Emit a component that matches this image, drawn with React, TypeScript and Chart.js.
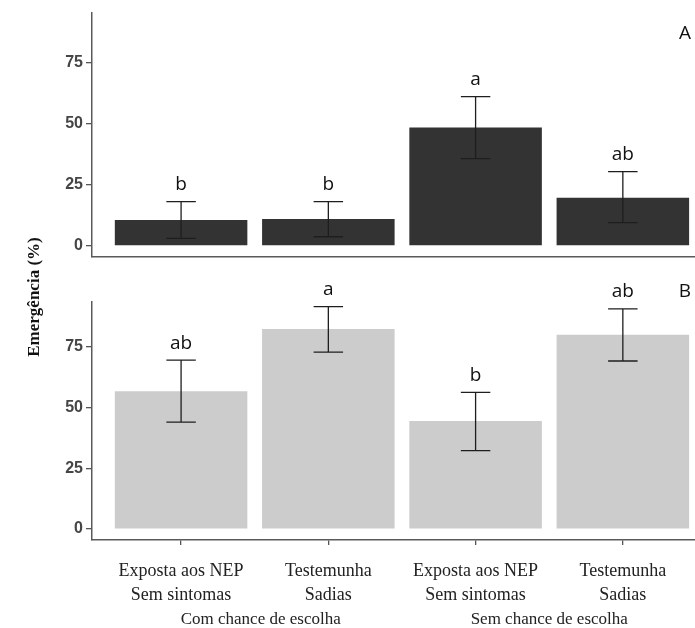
import React, { useEffect, useRef } from "react";
import { Chart, registerables } from "chart.js";

Chart.register(...registerables);

// ---- data ----
const categories: string[][] = [
  ["Exposta aos NEP", "Sem sintomas"],
  ["Testemunha", "Sadias"],
  ["Exposta aos NEP", "Sem sintomas"],
  ["Testemunha", "Sadias"],
];
const groups: string[] = ["Com chance de escolha", "Sem chance de escolha"];
const yTicks: number[] = [0, 25, 50, 75];

const meanA: number[] = [10.7, 11.1, 48.6, 19.8];
const lowA: number[] = [3.1, 3.8, 35.8, 9.6];
const highA: number[] = [18.2, 18.2, 61.2, 30.5];
const lettersA: string[] = ["b", "b", "a", "ab"];

const meanB: number[] = [56.8, 82.4, 44.5, 80.0];
const lowB: number[] = [44.0, 72.9, 32.3, 69.2];
const highB: number[] = [69.6, 91.6, 56.3, 90.7];
const lettersB: string[] = ["ab", "a", "b", "ab"];

const yTitle = "Emergência (%)";

// ---- layout ----
const W = 695;
const H = 628;
const positions = categories.map((_, i) => i + 1);

const errorBarPlugin = {
  id: "errorBars",
  afterDatasetsDraw(chart: any, _args: any, opts: any) {
    const { ctx } = chart;
    const xs = chart.scales.x;
    const ys = chart.scales.y;
    ctx.save();
    ctx.strokeStyle = "#1e1e1e";
    ctx.lineWidth = 1.3;
    opts.low.forEach((lo: number, i: number) => {
      const hi = opts.high[i];
      const px = xs.getPixelForValue(positions[i]);
      const hw = xs.getPixelForValue(positions[i] + 0.1) - px;
      const yh = ys.getPixelForValue(hi);
      const yl = ys.getPixelForValue(lo);
      ctx.beginPath();
      ctx.moveTo(px, yh);
      ctx.lineTo(px, yl);
      ctx.moveTo(px - hw, yh);
      ctx.lineTo(px + hw, yh);
      ctx.moveTo(px - hw, yl);
      ctx.lineTo(px + hw, yl);
      ctx.stroke();
      ctx.fillStyle = "#111";
      ctx.font = '19px "Open Sans"';
      ctx.textAlign = "center";
      ctx.textBaseline = "alphabetic";
      ctx.fillText(opts.letters[i], px, yh - 11.5);
    });
    ctx.fillStyle = "#111";
    ctx.font = '19px "Open Sans"';
    ctx.textAlign = "center";
    ctx.textBaseline = "alphabetic";
    ctx.fillText(opts.panel, chart.chartArea.right - 10, opts.panelY);
    ctx.restore();
  },
};

const decorPlugin = {
  id: "decor",
  afterDraw(chart: any, _args: any, opts: any) {
    if (!opts.enabled) return;
    const { ctx } = chart;
    const xs = chart.scales.x;
    ctx.save();
    ctx.fillStyle = "#111";
    ctx.font = 'bold 17px "Liberation Serif"';
    ctx.textAlign = "center";
    ctx.textBaseline = "middle";
    ctx.translate(35, 297);
    ctx.rotate(-Math.PI / 2);
    ctx.fillText(yTitle, 0, 0);
    ctx.restore();

    ctx.save();
    ctx.fillStyle = "#222";
    ctx.font = '17px "Liberation Serif"';
    ctx.textAlign = "center";
    ctx.textBaseline = "middle";
    groups.forEach((g, gi) => {
      const a = xs.getPixelForValue(positions[gi * 2]);
      const b = xs.getPixelForValue(positions[gi * 2 + 1]);
      ctx.fillText(g, (a + b) / 2 + (gi === 0 ? 6 : 0), chart.height - 8);
    });
    ctx.restore();
  },
};

function buildConfig(panel: "A" | "B"): any {
  const isA = panel === "A";
  const mean = isA ? meanA : meanB;
  return {
    type: "bar",
    data: {
      datasets: [
        {
          data: mean.map((v, i) => ({ x: positions[i], y: v })),
          backgroundColor: isA ? "#333333" : "#cccccc",
          borderWidth: 0,
          barPercentage: 0.9,
          categoryPercentage: 1.0,
        },
      ],
    },
    plugins: [errorBarPlugin, decorPlugin],
    options: {
      responsive: false,
      animation: false,
      devicePixelRatio: 1,
      events: [],
      layout: {
        padding: { top: isA ? 13 : 302, left: 0, right: 0, bottom: 0 },
      },
      plugins: {
        legend: { display: false },
        tooltip: { enabled: false },
        errorBars: {
          low: isA ? lowA : lowB,
          high: isA ? highA : highB,
          letters: isA ? lettersA : lettersB,
          panel,
          panelY: isA ? 39 : 297,
        },
        decor: { enabled: !isA },
      },
      scales: {
        x: {
          type: "linear",
          offset: false,
          min: 0.395,
          max: 4.49,
          afterBuildTicks: (s: any) => {
            s.ticks = positions.map((v) => ({ value: v }));
          },
          afterFit: (s: any) => {
            s.height = isA ? H - 257 : H - 540;
          },
          ticks: {
            display: !isA,
            autoSkip: false,
            maxRotation: 0,
            minRotation: 0,
            padding: 14,
            color: "#222",
            font: { family: "Liberation Serif", size: 18, lineHeight: 24 / 18 },
            callback: (_v: any, i: number) => categories[i],
          },
          grid: {
            display: !isA,
            offset: false,
            drawOnChartArea: false,
            drawTicks: true,
            tickLength: 5,
            color: "#555",
            lineWidth: 1.3,
          },
          border: { display: true, color: "#5a5a5a", width: 1.5 },
        },
        y: {
          type: "linear",
          min: -4.5,
          max: isA ? 95.5 : 93.5,
          afterBuildTicks: (s: any) => {
            s.ticks = yTicks.map((v) => ({ value: v }));
          },
          afterFit: (s: any) => {
            s.width = 92;
          },
          ticks: {
            padding: 3,
            color: "#454545",
            font: { family: "Liberation Sans", size: 16, weight: "bold" },
            callback: (v: any) => String(v),
          },
          grid: {
            display: true,
            drawOnChartArea: false,
            drawTicks: true,
            tickLength: 6,
            color: "#555",
            lineWidth: 1.3,
          },
          border: { display: true, color: "#5a5a5a", width: 1.5 },
        },
      },
    },
  };
}

export default function App() {
  const refA = useRef<HTMLCanvasElement | null>(null);
  const refB = useRef<HTMLCanvasElement | null>(null);

  useEffect(() => {
    const charts: Chart[] = [];
    if (refA.current) charts.push(new Chart(refA.current, buildConfig("A")));
    if (refB.current) charts.push(new Chart(refB.current, buildConfig("B")));
    return () => charts.forEach((c) => c.destroy());
  }, []);

  const canvasStyle: React.CSSProperties = {
    position: "absolute",
    left: 0,
    top: 0,
    width: W,
    height: H,
    display: "block",
  };

  return (
    <div
      style={{
        position: "absolute",
        left: 0,
        top: 0,
        width: W,
        height: H,
        background: "#ffffff",
        overflow: "hidden",
      }}
    >
      <canvas ref={refA} width={W} height={H} style={canvasStyle} />
      <canvas ref={refB} width={W} height={H} style={canvasStyle} />
    </div>
  );
}
